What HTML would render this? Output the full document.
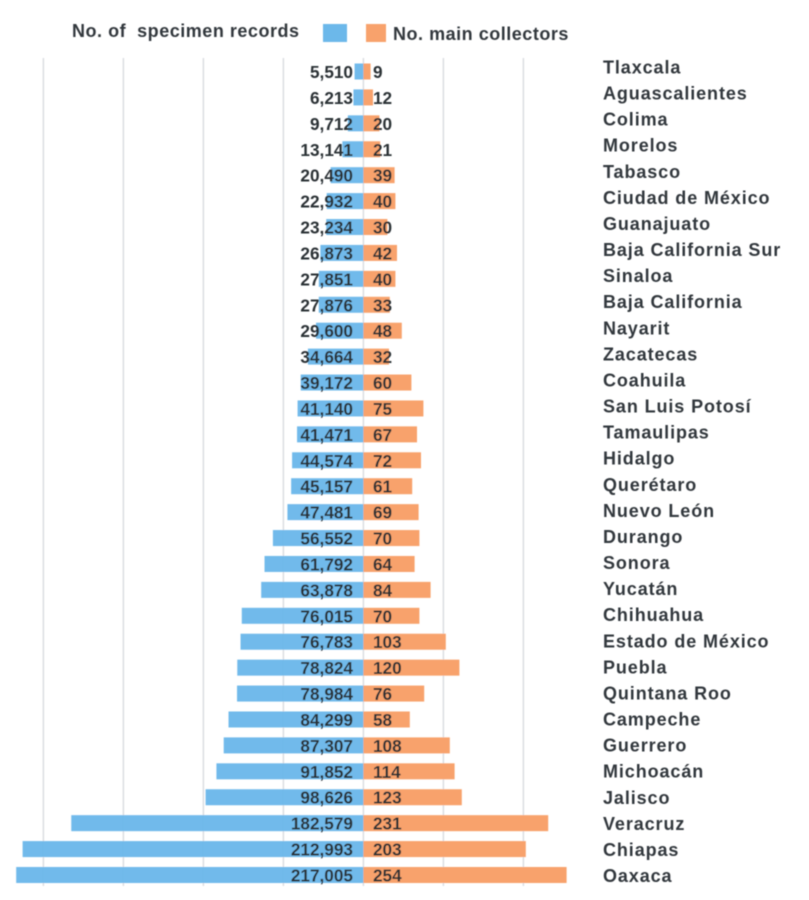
<!DOCTYPE html>
<html lang="en">
<head>
<meta charset="utf-8">
<title>Specimen records and main collectors by Mexican state</title>
<style>
html,body{margin:0;padding:0;background:#fff;width:809px;height:900px;overflow:hidden}
svg{display:block;font-family:"Liberation Sans",sans-serif}
text{font-weight:700;font-size:17.2px;fill:#2c3036}
.cat{font-size:18px;letter-spacing:.9px;fill:#33373c}
.leg{font-size:18px;letter-spacing:.52px;fill:#33373c}
</style>
</head>
<body>
<svg id="chart" width="809" height="900" viewBox="0 0 809 900" xmlns="http://www.w3.org/2000/svg">
<defs><filter id="soft" x="-5%" y="-5%" width="110%" height="110%"><feGaussianBlur stdDeviation="0.5"/></filter></defs>
<g id="root" filter="url(#soft)">
<g id="grid"></g>
<g id="bars"></g>
<g id="labels"></g>
<g id="cats"></g>
<g>
<text class="leg" x="72" y="37" style="white-space:pre">No. of  specimen records</text>
<rect x="323" y="24" width="24" height="18" fill="#6cb8ea"/>
<rect x="366" y="24" width="20" height="18" fill="#f8a26c"/>
<text class="leg" x="393" y="40">No. main collectors</text>
</g>
</g>
</svg>
<script>
const states = ["Tlaxcala","Aguascalientes","Colima","Morelos","Tabasco","Ciudad de México","Guanajuato","Baja California Sur","Sinaloa","Baja California","Nayarit","Zacatecas","Coahuila","San Luis Potosí","Tamaulipas","Hidalgo","Querétaro","Nuevo León","Durango","Sonora","Yucatán","Chihuahua","Estado de México","Puebla","Quintana Roo","Campeche","Guerrero","Michoacán","Jalisco","Veracruz","Chiapas","Oaxaca"];
const records = [5510,6213,9712,13141,20490,22932,23234,26873,27851,27876,29600,34664,39172,41140,41471,44574,45157,47481,56552,61792,63878,76015,76783,78824,78984,84299,87307,91852,98626,182579,212993,217005];
const collectors = [9,12,20,21,39,40,30,42,40,33,48,32,60,75,67,72,61,69,70,64,84,70,103,120,76,58,108,114,123,231,203,254];
const gridRecordTicks = [0,50000,100000,150000,200000];
const gridCollectorTicks = [100,200];

const NS = "http://www.w3.org/2000/svg";
const centerX = 363.4, firstY = 71.5, lastY = 875, barH = 16;
const catFirstBase = 73.5, catLastBase = 882;
const xRecords = v => centerX - v * 0.0016;
const xCollectors = v => centerX + v * 0.8;
const yRow = i => firstY + i * (lastY - firstY) / (states.length - 1);
const yCat = i => catFirstBase + i * (catLastBase - catFirstBase) / (states.length - 1);
const fmt = v => String(v).replace(/\B(?=(\d{3})+$)/g, ",");

function make(tag, attrs, parent, content) {
  const el = document.createElementNS(NS, tag);
  for (const k in attrs) el.setAttribute(k, attrs[k]);
  if (content !== undefined) el.textContent = content;
  parent.appendChild(el);
  return el;
}
const gridG = document.getElementById("grid");
const barsG = document.getElementById("bars");
const labelsG = document.getElementById("labels");
const catsG = document.getElementById("cats");

gridRecordTicks.forEach(t => {
  const l = make("line", {x1: xRecords(t), x2: xRecords(t), y1: 58, y2: 886, stroke: "#dcdee2", "stroke-width": 1.5}, gridG);
  
  
});
gridCollectorTicks.forEach(t => {
  const l = make("line", {x1: xCollectors(t), x2: xCollectors(t), y1: 58, y2: 886, stroke: "#dcdee2", "stroke-width": 1.5}, gridG);
  
  
});

states.forEach((s, i) => {
  const y = yRow(i);
  const b = make("rect", {x: xRecords(records[i]), y: y - barH / 2, width: centerX - xRecords(records[i]), height: barH, fill: "#6cb8ea", "fill-opacity": 0.97}, barsG);
  
  
  const o = make("rect", {x: centerX, y: y - barH / 2, width: xCollectors(collectors[i]) - centerX, height: barH, fill: "#f8a26c"}, barsG);
  
  
  const r = make("text", {x: 353, y: y + 6.5, "text-anchor": "end"}, labelsG, fmt(records[i]));
  
  
  const c = make("text", {x: 373, y: y + 6.5}, labelsG, String(collectors[i]));
  
  
  const n = make("text", {x: 603, y: yCat(i), class: "cat"}, catsG, s);
  
  
});
</script>
</body>
</html>
